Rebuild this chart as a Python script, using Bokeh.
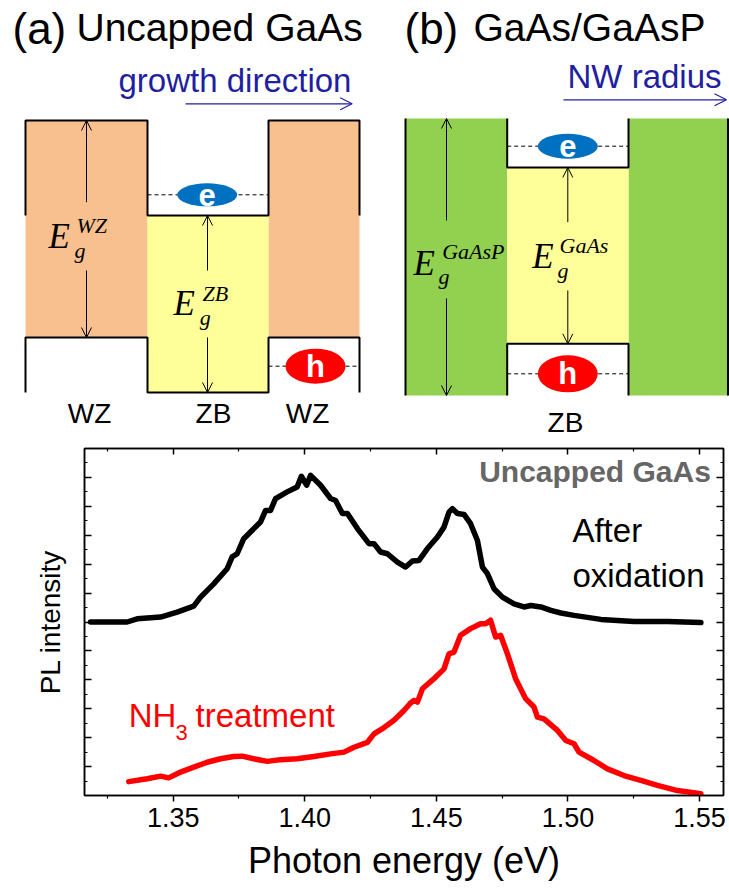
from bokeh.plotting import figure
from bokeh.models import Range1d, Arrow, OpenHead, LinearAxis, FixedTicker, Label, CustomJSTickFormatter
from bokeh.core.properties import value
from bokeh.embed import file_html
from bokeh.resources import INLINE

# ---------------- data: PL spectra (panel c) ----------------
black_E = [1.3186, 1.3325, 1.3363, 1.3452, 1.3515, 1.3578, 1.3604, 1.3654, 1.3705, 1.3724,
           1.3743, 1.3768, 1.3832, 1.3851, 1.3870, 1.3889, 1.3933, 1.3971, 1.3987, 1.4007,
           1.4022, 1.4060, 1.4098, 1.4117, 1.4143, 1.4162, 1.4200, 1.4244, 1.4263, 1.4288,
           1.4314, 1.4352, 1.4383, 1.4409, 1.4434, 1.4466, 1.4504, 1.4529, 1.4548, 1.4561,
           1.4580, 1.4605, 1.4630, 1.4656, 1.4675, 1.4694, 1.4719, 1.4751, 1.4795, 1.4833,
           1.4859, 1.4897, 1.4935, 1.4973, 1.5023, 1.5125, 1.5251, 1.5378, 1.5505]
black_I = [6.00, 6.00, 6.11, 6.17, 6.34, 6.55, 6.86, 7.32, 7.84, 8.25,
           8.36, 8.88, 9.46, 9.86, 9.86, 10.27, 10.50, 10.67, 11.04, 10.73,
           11.07, 10.73, 10.27, 10.20, 9.75, 9.75, 9.23, 8.71, 8.71, 8.42,
           8.36, 8.07, 7.90, 8.11, 8.13, 8.54, 8.94, 9.28, 9.80, 9.92,
           9.75, 9.72, 9.40, 8.82, 7.90, 7.67, 7.15, 6.86, 6.63, 6.52,
           6.57, 6.52, 6.40, 6.31, 6.23, 6.09, 6.02, 6.02, 5.98]
red_E = [1.3331, 1.3401, 1.3452, 1.3483, 1.3528, 1.3578, 1.3629, 1.3680, 1.3730, 1.3762,
         1.3806, 1.3857, 1.3908, 1.3971, 1.4035, 1.4098, 1.4149, 1.4187, 1.4238, 1.4263,
         1.4295, 1.4339, 1.4377, 1.4402, 1.4415, 1.4428, 1.4447, 1.4491, 1.4529, 1.4548,
         1.4567, 1.4592, 1.4630, 1.4668, 1.4687, 1.4706, 1.4725, 1.4744, 1.4770, 1.4801,
         1.4839, 1.4871, 1.4884, 1.4909, 1.4960, 1.4992, 1.5023, 1.5042, 1.5099, 1.5150,
         1.5213, 1.5277, 1.5340, 1.5416, 1.5505]
red_I = [0.48, 0.58, 0.67, 0.61, 0.81, 0.98, 1.15, 1.27, 1.35, 1.36,
         1.27, 1.18, 1.24, 1.27, 1.35, 1.44, 1.50, 1.67, 1.84, 2.13,
         2.31, 2.60, 2.94, 3.20, 3.29, 3.23, 3.69, 4.04, 4.38, 4.90,
         4.96, 5.54, 5.77, 5.94, 5.94, 6.06, 5.48, 5.54, 4.90, 4.04,
         3.35, 3.06, 2.71, 2.65, 2.25, 1.90, 1.79, 1.50, 1.21, 0.92,
         0.69, 0.52, 0.35, 0.17, 0.06]
x_ticks = [1.35, 1.40, 1.45, 1.50, 1.55]
x_minor = [1.325, 1.375, 1.425, 1.475, 1.525]
x_tick_labels = ["1.35", "1.40", "1.45", "1.50", "1.55"]
y_ticks = list(range(1, 12))
y_minor = [k + 0.5 for k in range(0, 12)]

# ---------------- schematic band diagrams (panels a, b) ----------------
a_wz_left = [25, 268]; a_wz_right = [147, 359]; a_wz_top = [120, 120]; a_wz_bot = [337, 337]
a_zb_left = [147]; a_zb_right = [268]; a_zb_top = [215]; a_zb_bot = [392]
a_cb_x = [25, 25, 147, 147, 268, 268, 359, 359]; a_cb_y = [215, 120, 120, 215, 215, 120, 120, 215]
a_vb_x = [25, 25, 147, 147, 268, 268, 359, 359]; a_vb_y = [392, 337, 337, 392, 392, 337, 337, 392]
b_sh_left = [405, 628]; b_sh_right = [506.7, 728]; b_sh_top = [118, 118]; b_sh_bot = [395, 395]
b_co_left = [506.7]; b_co_right = [628]; b_co_top = [167]; b_co_bot = [343.3]
b_lines_x = [[405, 405], [727.5, 727.5], [506.7, 506.7, 628, 628], [506.7, 506.7, 628, 628]]
b_lines_y = [[118, 395], [118, 395], [118, 167, 167, 118], [395, 343.3, 343.3, 395]]
dash_x = [[147, 268], [268, 359], [506.7, 628], [506.7, 628]]
dash_y = [[194.3, 194.3], [365.7, 365.7], [145.7, 145.7], [373.3, 373.3]]
car_x = [206.7, 315, 567.3, 567.3]
car_y = [194.3, 365.7, 145.7, 373.3]
car_w = [60, 60, 60, 60]
car_h = [23, 35, 25, 37]
car_c = ["#0070C0", "#FF0000", "#0070C0", "#FF0000"]
car_t = ["e", "h", "e", "h"]
gap_arrows = [(86, 201.7, 120), (86, 270, 337), (207, 270, 215), (207, 337, 392),
              (446, 220, 118), (446, 298, 395), (567.3, 221.7, 167), (567.3, 290, 343.3)]
dir_arrows = [(185, 351.7, 103.3), (563, 726, 99.3)]

TOP_H = 438
W = 729
H = 892

SANS = value("Liberation Sans")
SERIF = value("Liberation Serif")

top = figure(width=W, height=TOP_H, x_range=Range1d(0, W), y_range=Range1d(TOP_H, 0),
             output_backend="svg", toolbar_location=None, min_border=0,
             x_axis_location=None, y_axis_location=None)
top.grid.visible = False
top.outline_line_color = None

top.quad(left=a_wz_left, right=a_wz_right, top=a_wz_top, bottom=a_wz_bot,
         fill_color="#F8C08F", line_color=None)
top.quad(left=a_zb_left, right=a_zb_right, top=a_zb_top, bottom=a_zb_bot,
         fill_color="#FFFF99", line_color=None)
top.quad(left=b_sh_left, right=b_sh_right, top=b_sh_top, bottom=b_sh_bot,
         fill_color="#92D050", line_color=None)
top.quad(left=b_co_left, right=b_co_right, top=b_co_top, bottom=b_co_bot,
         fill_color="#FFFF99", line_color=None)
top.multi_line(xs=[a_cb_x, a_vb_x] + b_lines_x, ys=[a_cb_y, a_vb_y] + b_lines_y,
               line_color="black", line_width=2)
top.multi_line(xs=dash_x, ys=dash_y, line_color="black", line_width=1, line_dash="4 3")
top.ellipse(x=car_x, y=car_y, width=car_w, height=car_h, fill_color=car_c, line_color=None)
top.text(x=car_x, y=car_y, text=car_t, text_color="white", text_font=SANS,
         text_font_style="bold", text_font_size="31px", text_align="center",
         text_baseline="middle")

for (x, y0, y1) in gap_arrows:
    top.add_layout(Arrow(x_start=x, y_start=y0, x_end=x, y_end=y1, line_width=1, line_color="black",
                         end=OpenHead(size=10, line_width=1, line_color="black")))
for (x0, x1, y) in dir_arrows:
    top.add_layout(Arrow(x_start=x0, y_start=y, x_end=x1, y_end=y, line_width=1.2, line_color="#1F1FA0",
                         end=OpenHead(size=12, line_width=1.2, line_color="#1F1FA0")))

# text positions below are the vertical centres of the text boxes
top.text(x=[12, 404], y=[28, 28], text=["(a)", "(b)"], text_font=SANS, text_font_size="44px",
         text_baseline="middle", text_align="left", text_color="black")
top.text(x=[76, 473], y=[26.5, 26.5], text=["Uncapped GaAs", "GaAs/GaAsP"], text_font=SANS,
         text_font_size="39px", text_baseline="middle", text_align="left", text_color="black")
top.text(x=[118, 567], y=[79.5, 76], text=["growth direction", "NW radius"], text_font=SANS,
         text_font_size="33px", text_baseline="middle", text_align="left", text_color="#1F1FA0")
top.text(x=[89, 213, 307, 565], y=[413, 413, 413, 422], text=["WZ", "ZB", "WZ", "ZB"], text_font=SANS,
         text_font_size="28px", text_baseline="middle", text_align="center", text_color="black")
top.text(x=[48, 173, 413, 531.7], y=[236, 303, 263, 256], text=["E", "E", "E", "E"], text_font=SERIF,
         text_font_style="italic", text_font_size="35px", text_baseline="middle", text_align="left")
top.text(x=[76, 202, 441.7, 559], y=[224.5, 292.5, 250.5, 244.5], text=["WZ", "ZB", "GaAsP", "GaAs"],
         text_font=SERIF, text_font_style="italic", text_font_size="22px",
         text_baseline="middle", text_align="left")
top.text(x=[74, 199.3, 438, 557], y=[249.5, 316.5, 275.5, 269.5], text=["g", "g", "g", "g"],
         text_font=SERIF, text_font_style="italic", text_font_size="22px",
         text_baseline="middle", text_align="left")

# ---------------- PL plot (panel c) ----------------
bot = figure(width=W, height=H - TOP_H, x_range=Range1d(1.3163, 1.5591), y_range=Range1d(0, 12),
             output_backend="svg", toolbar_location=None,
             min_border_left=84, min_border_right=6, min_border_top=10, min_border_bottom=97,
             x_axis_location=None, y_axis_location=None)
bot.grid.visible = False
bot.outline_line_color = "black"
bot.outline_line_width = 1.5

bot.line(black_E, black_I, line_color="black", line_width=5.5, line_join="round", line_cap="round")
bot.line(red_E, red_I, line_color="#FF0000", line_width=5.5, line_join="round", line_cap="round")

xt = FixedTicker(ticks=x_ticks, minor_ticks=x_minor)
yt = FixedTicker(ticks=y_ticks, minor_ticks=y_minor)
blank = CustomJSTickFormatter(code="return ''")


def style(ax, tin, tout, show=False):
    ax.axis_line_width = 1.5
    ax.axis_line_color = "black"
    ax.major_tick_line_width = 1.5
    ax.major_tick_line_color = "black"
    ax.minor_tick_line_width = 1.2
    ax.minor_tick_line_color = "black"
    ax.major_tick_in = tin
    ax.major_tick_out = tout
    ax.minor_tick_in = int(tin * 0.55)
    ax.minor_tick_out = int(tout * 0.6)
    ax.major_label_text_color = "black"
    ax.axis_label_text_color = "black"
    if not show:
        ax.formatter = blank
        ax.major_label_standoff = 0


xb = LinearAxis(ticker=xt, axis_label="Photon energy (eV)",
                major_label_overrides={t: l for t, l in zip(x_ticks, x_tick_labels)})
style(xb, 0, 6, show=True)
xb.major_label_text_font = "Liberation Sans"
xb.major_label_text_font_size = "27px"
xb.major_label_standoff = 6
xb.axis_label_text_font = "Liberation Sans"
xb.axis_label_text_font_style = "normal"
xb.axis_label_text_font_size = "36px"
xb.axis_label_standoff = 10
bot.add_layout(xb, "below")

xa = LinearAxis(ticker=xt)
style(xa, 6, 0)
bot.add_layout(xa, "above")

yl = LinearAxis(ticker=yt, axis_label="PL intensity")
style(yl, 7, 0)
yl.axis_label_text_font = "Liberation Sans"
yl.axis_label_text_font_style = "normal"
yl.axis_label_text_font_size = "28px"
yl.axis_label_standoff = 19
bot.add_layout(yl, "left")

yr = LinearAxis(ticker=yt)
style(yr, 7, 0)
bot.add_layout(yr, "right")

bot.text(x=[1.5543], y=[11.2], text=["Uncapped GaAs"], text_font=SANS, text_font_style="bold",
         text_font_size="30px", text_color="#666666", text_align="right", text_baseline="middle")
bot.text(x=[1.5017, 1.5017], y=[9.16, 7.61], text=["After", "oxidation"], text_font=SANS,
         text_font_size="33px", text_color="black", text_align="left", text_baseline="middle")
bot.text(x=[1.3331, 1.3585], y=[2.76, 2.76], text=["NH", "treatment"], text_font=SANS,
         text_font_size="33px", text_color="#FF0000", text_align="left", text_baseline="middle")
bot.text(x=[1.3509], y=[2.17], text=["3"], text_font=SANS,
         text_font_size="22px", text_color="#FF0000", text_align="left", text_baseline="middle")
bot.add_layout(Label(x=1.2919, y=11.25, text="(c)", text_font="Liberation Sans", text_font_size="44px",
                     text_baseline="middle", text_align="left", text_color="black"))

open("out.html", "w").write(file_html([top, bot], INLINE))
